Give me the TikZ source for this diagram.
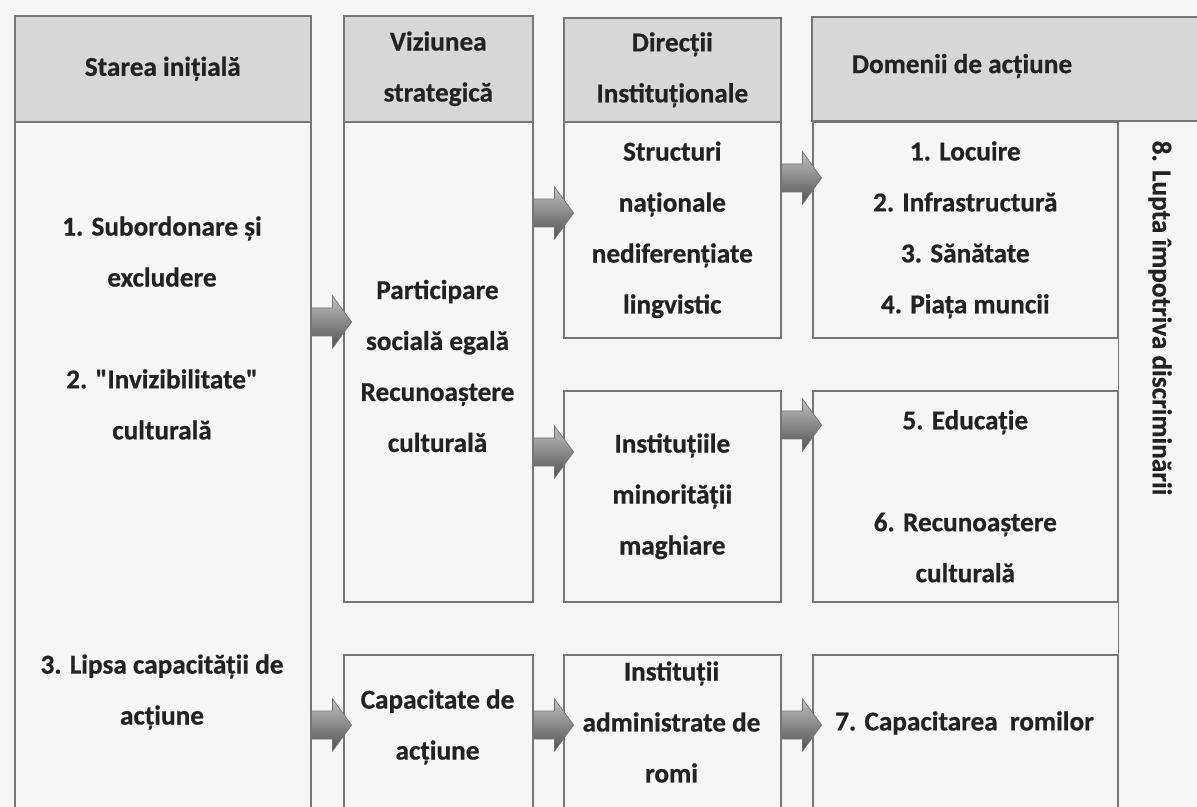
\documentclass[tikz,border=0pt]{standalone}
\usepackage{fontspec}
\setmainfont{Carlito}[Ligatures=TeXOff, BoldFeatures={FakeBold=0.6}]
\usepackage{tikz}

\definecolor{paper}{HTML}{F6F6F6}
\definecolor{hdrgray}{HTML}{D7D7D7}
\definecolor{boxline}{HTML}{767676}
\definecolor{ink}{HTML}{222222}

\tikzset{
  cell/.style 2 args={minimum width=#1*0.02cm, minimum height=#2*0.02cm, inner sep=0pt},
  box/.style={draw=boxline, line width=0.9pt, fill=paper},
  hdr/.style={draw=boxline, line width=0.9pt, fill=hdrgray},
  txt/.style={font=\fontsize{15.5}{29}\selectfont\bfseries, text=ink, align=center, inner sep=0pt},
  blockarr/.pic={
    \shade[top color=black!25, bottom color=black!68, draw=black!55, line width=0.4pt]
      (0,-14) -- (21,-14) -- (21,-26) -- (40,0) -- (21,26) -- (21,14) -- (0,14) -- cycle;
  }
}

\begin{document}
\begin{tikzpicture}[x=0.02cm, y=-0.02cm]
  \useasboundingbox (0,0) rectangle (1197,807);
  \fill[paper] (0,0) rectangle (1197,807);

  % headers
  \node[hdr, cell={296}{106}, anchor=north west, txt] (hstart) at (14,15) {Starea inițială};
  \node[hdr, cell={189}{106}, anchor=north west, txt] (hviz) at (343,15) {Viziunea\\strategică};
  \node[hdr, cell={217}{104}, anchor=north west, txt] (hdir) at (563,17) {Direcții\\Instituționale};
  \draw[hdr] (812,17) rectangle (1215,121);
  \node[txt] (hdom) at (962,66) {Domenii de acțiune};

  % boxes
  \node[box, cell={296}{720}, anchor=north west] (start) at (14,121) {};
  \node[box, cell={189}{480}, anchor=north west] (viz) at (343,121) {};
  \node[box, cell={189}{200}, anchor=north west] (cap) at (343,654) {};
  \node[box, cell={217}{216}, anchor=north west] (str) at (563,121) {};
  \node[box, cell={217}{211}, anchor=north west] (min) at (563,390) {};
  \node[box, cell={217}{200}, anchor=north west] (rom) at (563,654) {};
  \node[box, cell={305}{216}, anchor=north west] (dom1) at (812,121) {};
  \node[box, cell={305}{211}, anchor=north west] (dom2) at (812,390) {};
  \node[box, cell={305}{200}, anchor=north west] (dom3) at (812,654) {};
  \draw[boxline, line width=0.9pt] (dom1.north east) -- (dom3.south east);

  % texts
  \node[txt] (t1) at (162,328) {1. Subordonare și\\excludere\\[29pt]2. "Invizibilitate"\\culturală};
  \node[txt] (t3) at (162,692) {3. Lipsa capacității de\\acțiune};
  \node[txt] (tviz) at (437.5,366) {Participare\\socială egală\\Recunoaștere\\culturală};
  \node[txt] (tcap) at (437.5,727) {Capacitate de\\acțiune};
  \node[txt] (tstr) at (str.center) {Structuri\\naționale\\nediferențiate\\lingvistic};
  \node[txt] (tmin) at (min.center) {Instituțiile\\minorității\\maghiare};
  \node[txt] (trom) at (671.5,722) {Instituții\\administrate de\\romi};
  \node[txt] (tdom1) at (dom1.center) {1. Locuire\\2. Infrastructură\\3. Sănătate\\4. Piața muncii};
  \node[txt] (tdom2) at (dom2.center) {5. Educație\\[29pt]6. Recunoaștere\\culturală};
  \node[txt] (tdom3) at (964.5,723) {7. Capacitarea \ romilor};
  \node[txt, rotate=-90] (fight) at (1160,318) {8. Lupta împotriva discriminării};

  % arrows
  \pic at (start.east |- 0,322) {blockarr};
  \pic at (viz.east |- 0,213) {blockarr};
  \pic at (viz.east |- 0,452) {blockarr};
  \pic at (str.east |- 0,178) {blockarr};
  \pic at (min.east |- 0,425) {blockarr};
  \pic at (start.east |- 0,725) {blockarr};
  \pic at (cap.east |- 0,725) {blockarr};
  \pic at (rom.east |- 0,725) {blockarr};
\end{tikzpicture}
\end{document}
